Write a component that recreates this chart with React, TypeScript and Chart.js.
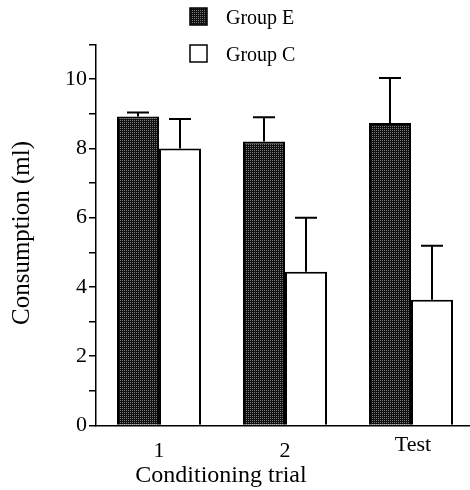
import React, { useEffect, useRef } from "react";
import { Chart, registerables } from "chart.js";

Chart.register(...registerables);

// ---- data ----
const categories = ["1", "2", "Test"];
const seriesNames = ["Group E", "Group C"];
const groupE = [8.92, 8.2, 8.73];
const groupC = [8.0, 4.44, 3.63];
const groupEErr = [0.12, 0.7, 1.3];
const groupCErr = [0.85, 1.56, 1.56];
const yMin = 0;
const yMax = 11;
const yStep = 1;
const xTitle = "Conditioning trial";
const yTitle = "Consumption (ml)";

const SERIF = "'Liberation Serif', 'Times New Roman', serif";

function makePattern(): CanvasPattern | string {
  const c = document.createElement("canvas");
  c.width = 4;
  c.height = 4;
  const g = c.getContext("2d");
  if (!g) return "#2a2a2a";
  g.fillStyle = "#101010";
  g.fillRect(0, 0, 4, 4);
  g.fillStyle = "#7a7a7a";
  for (let x = 0; x < 4; x += 2) {
    for (let y = 0; y < 4; y += 2) {
      g.fillRect(x, y, 1, 1);
    }
  }
  const p = g.createPattern(c, "repeat");
  return p || "#2a2a2a";
}

export default function App() {
  const ref = useRef<HTMLCanvasElement | null>(null);

  useEffect(() => {
    const canvas = ref.current;
    if (!canvas) return;
    const pattern = makePattern();

    const errorBars = {
      id: "errorBars",
      afterDatasetsDraw(chart: any) {
        const ctx = chart.ctx;
        const yScale = chart.scales.y;
        const errs = [groupEErr, groupCErr];
        chart.data.datasets.forEach((ds: any, i: number) => {
          const meta = chart.getDatasetMeta(i);
          meta.data.forEach((bar: any, j: number) => {
            const v = ds.data[j] as number;
            const top = yScale.getPixelForValue(v + errs[i][j]);
            ctx.save();
            ctx.strokeStyle = "#000";
            ctx.lineWidth = 2;
            ctx.beginPath();
            ctx.moveTo(bar.x, bar.y);
            ctx.lineTo(bar.x, top);
            ctx.moveTo(bar.x - 11, top);
            ctx.lineTo(bar.x + 11, top);
            ctx.stroke();
            ctx.restore();
          });
        });
      },
    };

    const texts = {
      id: "texts",
      afterDraw(chart: any) {
        const ctx = chart.ctx;
        const xScale = chart.scales.x;
        ctx.save();
        ctx.fillStyle = "#000";
        // x tick labels
        ctx.font = `22px ${SERIF}`;
        ctx.textAlign = "center";
        ctx.textBaseline = "alphabetic";
        categories.forEach((c, i) => {
          const x = xScale.getPixelForValue(i);
          const y = c === "Test" ? 451 : 457;
          ctx.fillText(c, x + (c === "Test" ? 2 : 0), y);
        });
        // x title
        ctx.font = `24px ${SERIF}`;
        ctx.fillText(xTitle, 221, 482);
        // y title
        ctx.save();
        ctx.translate(29, 233);
        ctx.rotate(-Math.PI / 2);
        ctx.font = `25px ${SERIF}`;
        ctx.textAlign = "center";
        ctx.fillText(yTitle, 0, 0);
        ctx.restore();
        // legend
        ctx.lineWidth = 1.5;
        ctx.strokeStyle = "#000";
        ctx.fillStyle = pattern as any;
        ctx.fillRect(190, 8, 17, 17);
        ctx.strokeRect(190, 8, 17, 17);
        ctx.fillStyle = "#fff";
        ctx.fillRect(190, 45, 17, 17);
        ctx.strokeRect(190, 45, 17, 17);
        ctx.fillStyle = "#000";
        ctx.font = `20px ${SERIF}`;
        ctx.textAlign = "left";
        ctx.fillText(seriesNames[0], 226, 24);
        ctx.fillText(seriesNames[1], 226, 61);
        ctx.restore();
      },
    };

    const chart = new Chart(canvas, {
      type: "bar",
      data: {
        labels: categories,
        datasets: [
          {
            label: seriesNames[0],
            data: groupE,
            backgroundColor: pattern as any,
            borderColor: "#000",
            borderWidth: 2,
            barPercentage: 1,
            categoryPercentage: 0.667,
          },
          {
            label: seriesNames[1],
            data: groupC,
            backgroundColor: "#fff",
            borderColor: "#000",
            borderWidth: 2,
            barPercentage: 1,
            categoryPercentage: 0.667,
          },
        ],
      },
      options: {
        responsive: false,
        animation: false,
        devicePixelRatio: 1,
        layout: { padding: { top: 44.5, right: 6, bottom: 0, left: 0 } },
        plugins: {
          legend: { display: false },
          tooltip: { enabled: false },
        },
        scales: {
          x: {
            grid: { display: false },
            border: { display: true, color: "#000", width: 1.5 },
            ticks: { display: false },
            afterFit: (s: any) => {
              s.height = 64.5;
            },
          },
          y: {
            min: yMin,
            max: yMax,
            grid: {
              display: true,
              drawOnChartArea: false,
              drawTicks: true,
              tickLength: 7,
              color: "#000",
              lineWidth: 1.5,
            },
            border: { display: true, color: "#000", width: 1.5 },
            ticks: {
              stepSize: yStep,
              padding: 2,
              color: "#000",
              font: { family: SERIF, size: 22 },
              callback: (v: any) => (Number(v) % 2 === 0 ? String(v) : ""),
            },
            afterFit: (s: any) => {
              s.width = 96;
            },
          },
        },
      },
      plugins: [errorBars, texts],
    });

    return () => chart.destroy();
  }, []);

  return (
    <div
      style={{
        position: "absolute",
        left: 0,
        top: 0,
        width: 470,
        height: 490,
        overflow: "hidden",
        background: "#fff",
      }}
    >
      <canvas ref={ref} width={480} height={490} style={{ display: "block" }} />
    </div>
  );
}
